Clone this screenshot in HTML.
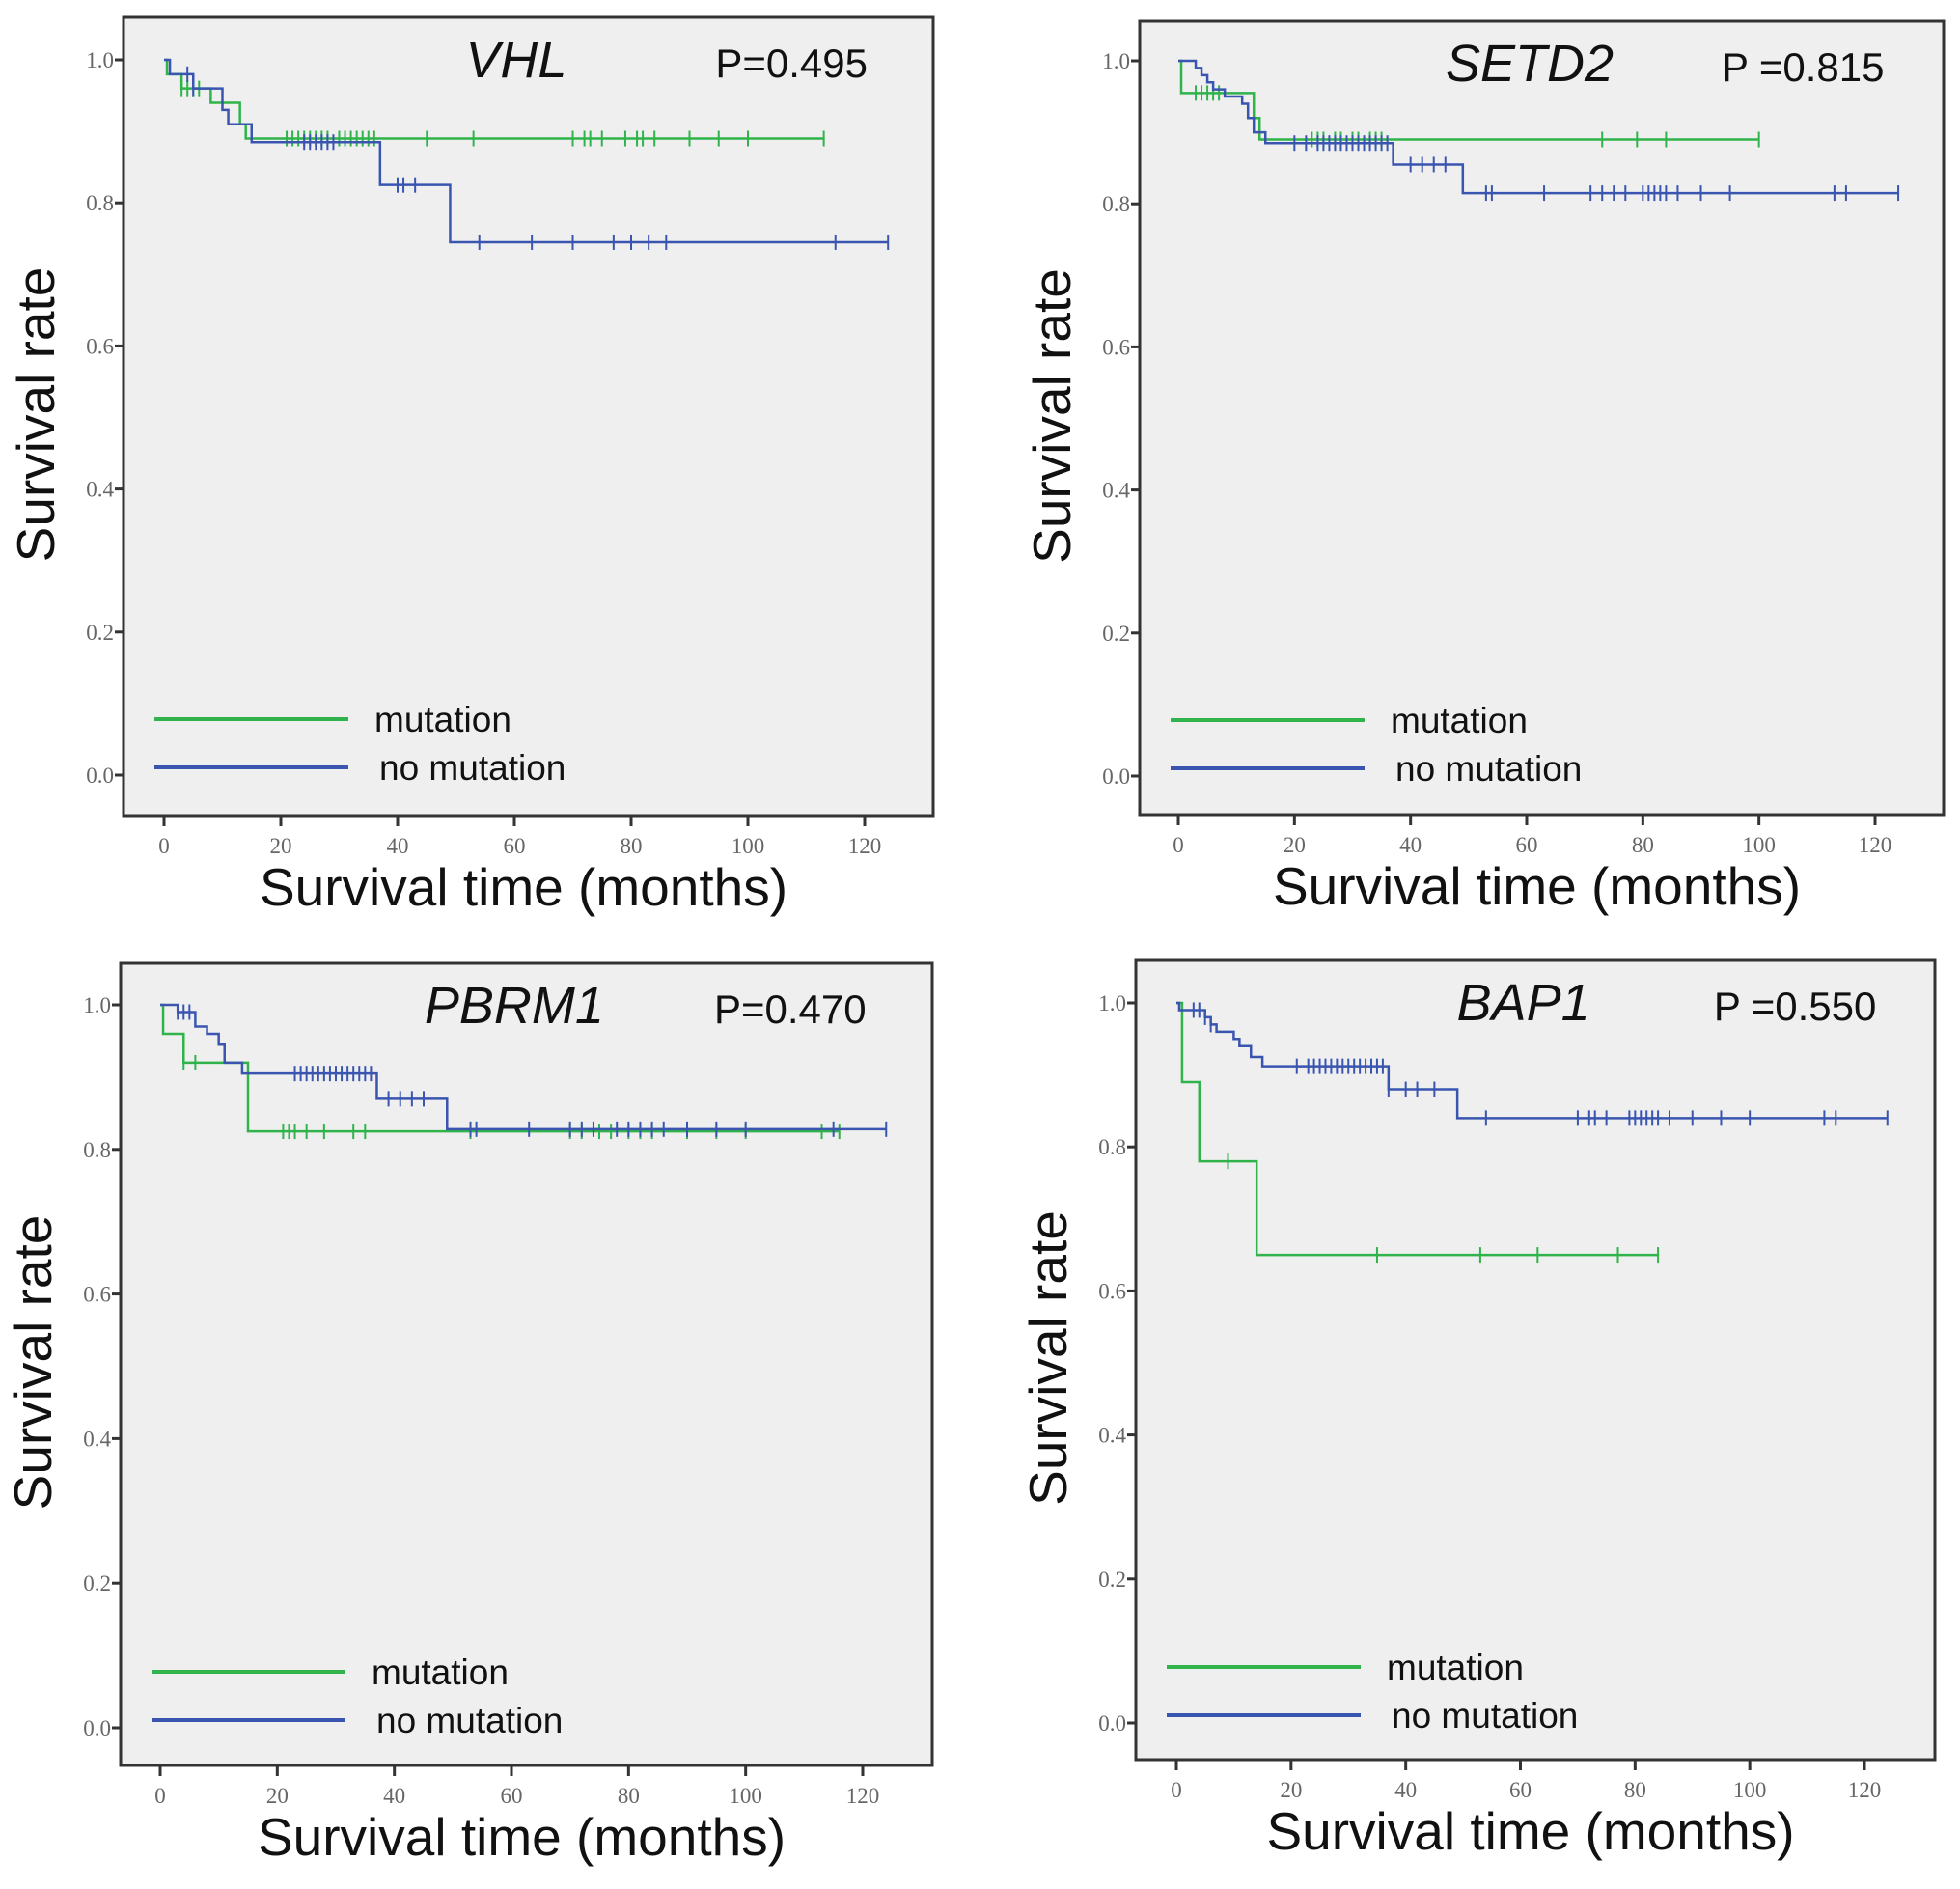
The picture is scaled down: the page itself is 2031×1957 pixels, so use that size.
<!DOCTYPE html>
<html><head><meta charset="utf-8"><style>
html,body{margin:0;padding:0;background:#fff;}
svg{display:block;}
.tk{font-family:"Liberation Serif",serif;font-size:23px;fill:#666;}
.lab{font-family:"Liberation Sans",sans-serif;fill:#111;}
</style></head><body>
<svg id="chart" width="2031" height="1957" viewBox="0 0 2031 1957" xmlns="http://www.w3.org/2000/svg"></svg>
<script>
// Panel data: step times and survival values, censor times
const vhlMutT=[0,0.5,3,8,13,14], vhlMutS=[1.0,0.98,0.96,0.94,0.91,0.89], vhlMutEnd=113;
const vhlMutC=[3,4,5,6,10,21,22,23,24,25,26,27,28,30,31,32,33,34,35,36,45,53,70,72,73,75,79,81,82,84,90,95,100,113];
const vhlNoT=[0,1,5,10,11,15,37,49], vhlNoS=[1.0,0.98,0.96,0.93,0.91,0.885,0.825,0.745], vhlNoEnd=124;
const vhlNoC=[4,5,24,25,26,27,28,29,40,41,43,54,63,70,77,80,83,86,115,124];

const setMutT=[0,0.5,13,14], setMutS=[1.0,0.955,0.92,0.89], setMutEnd=100;
const setMutC=[3,4,5,6,7,23,24,25,27,28,30,31,33,34,35,73,79,84,100];
const setNoT=[0,3,4,5,6,8,11,12,13,15,37,49], setNoS=[1.0,0.99,0.98,0.97,0.96,0.95,0.94,0.92,0.9,0.885,0.855,0.815], setNoEnd=124;
const setNoC=[20,22,24,25,26,27,28,29,30,31,32,33,34,35,36,40,42,44,46,53,54,63,71,73,75,77,80,81,82,83,84,86,90,95,113,115,124];

const pbMutT=[0,0.5,4,15], pbMutS=[1.0,0.96,0.92,0.825], pbMutEnd=116;
const pbMutC=[4,6,21,22,23,25,28,33,35,53,70,72,75,77,80,82,84,90,95,100,113,116];
const pbNoT=[0,3,6,8,10,11,14,37,49], pbNoS=[1.0,0.99,0.97,0.96,0.945,0.92,0.905,0.87,0.828], pbNoEnd=124;
const pbNoC=[3,4,5,23,24,25,26,27,28,29,30,31,32,33,34,35,36,39,41,43,45,53,54,63,70,72,74,78,80,82,84,86,90,95,100,115,124];

const bapMutT=[0,1,4,14], bapMutS=[1.0,0.89,0.78,0.65], bapMutEnd=84;
const bapMutC=[9,35,53,63,77,84];
const bapNoT=[0,0.5,5,6,7,10,11,13,15,37,49], bapNoS=[1.0,0.99,0.98,0.97,0.96,0.95,0.94,0.925,0.912,0.88,0.84], bapNoEnd=124;
const bapNoC=[3,4,5,6,21,23,24,25,26,27,28,29,30,31,32,33,34,35,36,37,40,42,45,54,70,72,73,75,79,80,81,82,83,84,86,90,95,100,113,115,124];

const xTicks=[0,20,40,60,80,100,120];
const yTicks=[0.0,0.2,0.4,0.6,0.8,1.0];

const panels=[
 {name:'vhl',gene:'VHL',p:'P=0.495',f:[128,18,967,845],x0:170,x120:896,y0:803,y1:62,
  mt:vhlMutT,ms:vhlMutS,me:vhlMutEnd,mc:vhlMutC,nt:vhlNoT,ns:vhlNoS,ne:vhlNoEnd,nc:vhlNoC},
 {name:'setd2',gene:'SETD2',p:'P =0.815',f:[1181,22,2014,844],x0:1221,x120:1943,y0:804,y1:63,
  mt:setMutT,ms:setMutS,me:setMutEnd,mc:setMutC,nt:setNoT,ns:setNoS,ne:setNoEnd,nc:setNoC},
 {name:'pbrm1',gene:'PBRM1',p:'P=0.470',f:[125,998,966,1829],x0:166,x120:894,y0:1790,y1:1041,
  mt:pbMutT,ms:pbMutS,me:pbMutEnd,mc:pbMutC,nt:pbNoT,ns:pbNoS,ne:pbNoEnd,nc:pbNoC},
 {name:'bap1',gene:'BAP1',p:'P =0.550',f:[1177,995,2005,1823],x0:1219,x120:1932,y0:1785,y1:1039,
  mt:bapMutT,ms:bapMutS,me:bapMutEnd,mc:bapMutC,nt:bapNoT,ns:bapNoS,ne:bapNoEnd,nc:bapNoC}
];
const NS='http://www.w3.org/2000/svg';
const svg=document.getElementById('chart');
function mk(tag,attrs,parent){const e=document.createElementNS(NS,tag);for(const k in attrs)e.setAttribute(k,attrs[k]);(parent||svg).appendChild(e);return e;}
const GREEN='#2fb34a', BLUE='#3a55b0';

panels.forEach(P=>{
  const g=mk('g',{});
  
  
  const xs=t=>P.x0+(P.x120-P.x0)*t/120;
  const ys=v=>P.y0+(P.y1-P.y0)*v;
  const [L,T,R,B]=P.f;
  const fr=mk('rect',{x:L,y:T,width:R-L,height:B-T,fill:'#efefef',stroke:'#333','stroke-width':3},g);
  
  
  yTicks.forEach(v=>{
    const y=ys(v);
    const tl=mk('line',{x1:L-9,x2:L,y1:y,y2:y,stroke:'#333','stroke-width':3},g);
    
    
    const tx=mk('text',{x:L-10,y:y+8,'text-anchor':'end',class:'tk'},g);
    tx.textContent=v.toFixed(1);
    
    
  });
  xTicks.forEach(v=>{
    const x=xs(v);
    const tl=mk('line',{x1:x,x2:x,y1:B,y2:B+11,stroke:'#333','stroke-width':3},g);
    
    
    const tx=mk('text',{x:x,y:B+39,'text-anchor':'middle',class:'tk'},g);
    tx.textContent=v;
    
    
  });
  function series(T_,S_,end,C_,col,nm){
    let d='M'+xs(T_[0])+','+ys(S_[0]);
    for(let i=1;i<T_.length;i++){d+=' H'+xs(T_[i])+' V'+ys(S_[i]);}
    d+=' H'+xs(end);
    const p=mk('path',{d:d,fill:'none',stroke:col,'stroke-width':2.5},g);
    
    
    C_.forEach(c=>{
      let s=S_[0];for(let i=0;i<T_.length;i++){if(T_[i]<=c)s=S_[i];}
      const m=mk('line',{x1:xs(c),x2:xs(c),y1:ys(s)-8,y2:ys(s)+8,stroke:col,'stroke-width':2},g);
      
      
    });
  }
  series(P.mt,P.ms,P.me,P.mc,GREEN,'mutation');
  series(P.nt,P.ns,P.ne,P.nc,BLUE,'no-mutation');
  const w=R-L;
  const ti=mk('text',{x:L+w*0.485,y:T+62,'text-anchor':'middle',class:'lab','font-size':54,'font-style':'italic'},g);
  ti.textContent=P.gene;
  
  
  const pv=mk('text',{x:L+w*0.825,y:T+62,'text-anchor':'middle',class:'lab','font-size':42},g);
  pv.textContent=P.p;
  
  
  const ly1=P.y0-58, ly2=P.y0-8;
  const l1=mk('line',{x1:L+32,x2:L+233,y1:ly1,y2:ly1,stroke:GREEN,'stroke-width':4},g);
  
  
  const t1=mk('text',{x:L+260,y:ly1+13,class:'lab','font-size':37},g);
  t1.textContent='mutation';
  
  
  const l2=mk('line',{x1:L+32,x2:L+233,y1:ly2,y2:ly2,stroke:BLUE,'stroke-width':4},g);
  
  
  const t2=mk('text',{x:L+265,y:ly2+13,class:'lab','font-size':37},g);
  t2.textContent='no mutation';
  
  
  const xl=mk('text',{x:(L+R)/2-5,y:B+93,'text-anchor':'middle',class:'lab','font-size':55},g);
  xl.textContent='Survival time (months)';
  
  
  const cy=(T+B)/2-2, cx=L-72;
  const yl=mk('text',{x:cx,y:cy,'text-anchor':'middle',class:'lab','font-size':55,transform:'rotate(-90 '+cx+' '+cy+')'},g);
  yl.textContent='Survival rate';
  
  
});
</script>
</body></html>
